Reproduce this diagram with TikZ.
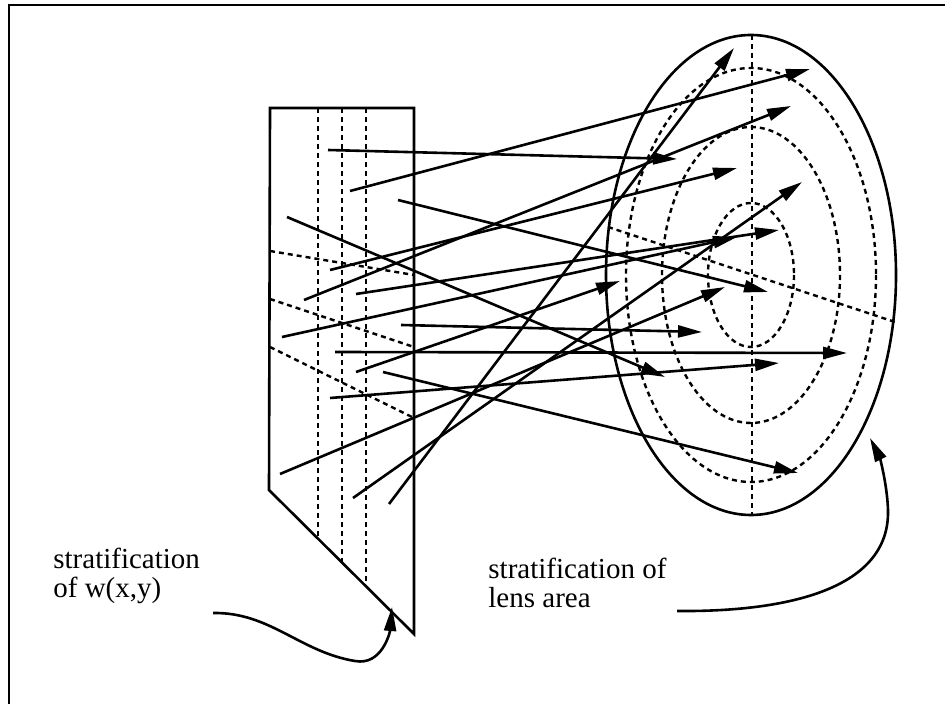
\documentclass[tikz,border=0pt]{standalone}
\usepackage{fontspec}
\setmainfont{Liberation Serif}
\usetikzlibrary{arrows.meta}

\begin{document}
\begin{tikzpicture}[x=0.5pt, y=-0.5pt,
  ray/.style={-{Triangle[length=12pt,width=6pt]}, line width=1.3pt},
  strata/.style={dash pattern=on 2.5pt off 2pt, line width=1.2pt},
  outline/.style={line width=1.3pt},
  lbl/.style={font=\fontsize{14.5}{14.5}\selectfont, align=left, anchor=base west, inner sep=0pt}]
  \useasboundingbox (0,0) rectangle (945,704);

  %--- frame ---
  \draw[line width=1.3pt] (9,704) -- (9,5) -- (945,5);

  %--- stratified w(x,y) slab ---
  \coordinate (wtl) at (270,108);
  \coordinate (wtr) at (414,108);
  \coordinate (wbr) at (414,634);
  \coordinate (wbl) at (269,490);
  \draw[outline] (wtl) -- (wtr) -- (wbr) -- (wbl) -- cycle;
  \foreach \x/\y in {318/539, 342/563, 366/586}
    \draw[strata] (\x,108) -- (\x,\y);
  \draw[strata] (270,251) -- (414,275);
  \draw[strata] (270,299) -- (414,347);
  \draw[strata] (270,347) -- (414,418);

  %--- lens area ---
  \coordinate (lensc) at (751,275);
  \draw[outline] (lensc) ellipse [x radius=145, y radius=240];
  \foreach \rx/\ry in {125/207, 89/148, 43/72}
    \draw[strata] (lensc) ellipse [x radius=\rx, y radius=\ry];
  \draw[strata] (752,35) -- (752,515);
  \draw[strata] (608,227) -- (895,322);

  %--- rays from slab to lens ---
  \foreach \i/\sx/\sy/\tx/\ty in {1/328/150/677/159, 2/350/191/810/69,
      3/398/200/768/292, 4/287/217/665/377, 5/330/270/737/168,
      6/304/300/791/106, 7/356/294/779/230, 8/282/337/737/237,
      9/401/325/702/332, 10/335/352/847/353, 11/356/372/620/281,
      12/383/372/798/473, 13/330/398/779/363, 14/280/474/725/287,
      15/353/498/802/182, 16/389/504/734/48} {
    \coordinate (src\i) at (\sx,\sy);
    \coordinate (dst\i) at (\tx,\ty);
    \draw[ray] (src\i) -- (dst\i);
  }

  %--- labels ---
  \node[lbl] (wlabel) at (53,597) {stratification\\of w(x,y)};
  \node[lbl] (lenslabel) at (488,607) {stratification of\\lens area};

  \coordinate (wfrom) at (213,613);
  \coordinate (wto) at (392,607);
  \draw[ray] (wfrom) .. controls (270,612) and (300,652) .. (355,661)
    .. controls (382,666) and (390,632) .. (wto);

  \coordinate (lensfrom) at (677,611);
  \coordinate (lensto) at (870,438);
  \draw[ray] (lensfrom) .. controls (780,612) and (890,592) .. (888,510)
    .. controls (887,482) and (879,456) .. (lensto);
\end{tikzpicture}
\end{document}
